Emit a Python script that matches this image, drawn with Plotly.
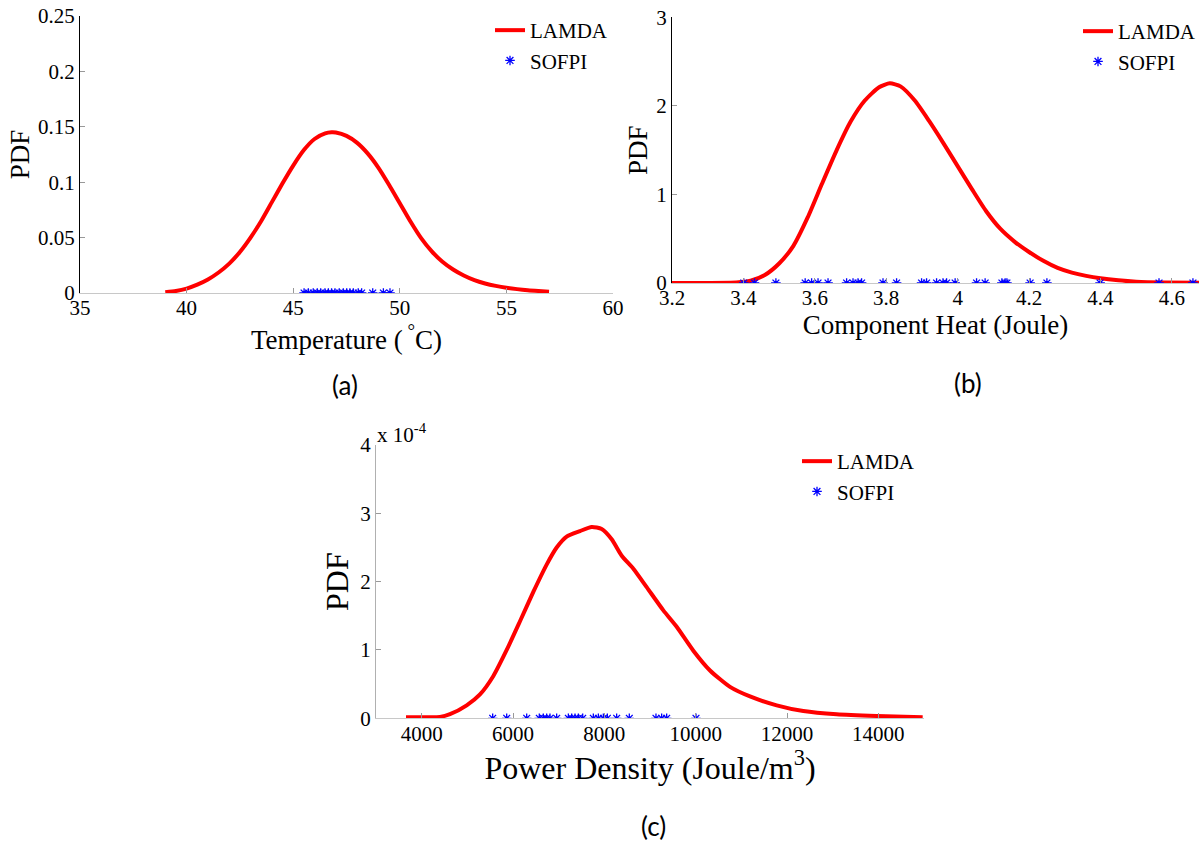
import plotly.graph_objects as go

# ---------------- data ----------------
# (a) Temperature
temp_x = [39.0, 39.5, 40.0, 40.5, 41.0, 41.5, 42.0, 42.5, 43.0, 43.5, 44.0, 44.5, 45.0, 45.5,
          46.0, 46.5, 46.8, 47.0, 47.5, 48.0, 48.5, 49.0, 49.5, 50.0, 50.5, 51.0, 51.5, 52.0,
          52.5, 53.0, 53.5, 54.0, 54.5, 55.0, 55.5, 56.0, 56.5, 57.0]
temp_pdf = [0.0006, 0.0018, 0.004, 0.0075, 0.0122, 0.0185, 0.0265, 0.037, 0.050, 0.065, 0.082,
            0.099, 0.115, 0.129, 0.139, 0.144, 0.145, 0.1448, 0.1418, 0.1355, 0.1258, 0.1130,
            0.0975, 0.0810, 0.0645, 0.0495, 0.0375, 0.0282, 0.0212, 0.0158, 0.0116, 0.0086,
            0.0064, 0.0047, 0.0035, 0.0025, 0.0018, 0.0012]
temp_sofpi = [45.51, 45.71, 45.94, 46.13, 46.29, 46.49, 46.65, 46.80, 46.96, 47.16, 47.35, 47.51,
              47.66, 47.82, 48.05, 48.21, 48.73, 49.23, 49.54]

# (b) Component heat
heat_x = [3.20, 3.30, 3.38, 3.42, 3.46, 3.50, 3.54, 3.58, 3.62, 3.66, 3.70, 3.74, 3.78, 3.81,
          3.84, 3.88, 3.92, 3.96, 4.00, 4.04, 4.08, 4.12, 4.16, 4.20, 4.24, 4.28, 4.32, 4.36,
          4.40, 4.45, 4.50, 4.58, 4.68]
heat_pdf = [0.0, 0.001, 0.006, 0.025, 0.09, 0.22, 0.42, 0.74, 1.12, 1.49, 1.82, 2.06, 2.21, 2.254,
            2.22, 2.06, 1.83, 1.58, 1.32, 1.06, 0.81, 0.61, 0.465, 0.35, 0.25, 0.17, 0.117, 0.08,
            0.053, 0.03, 0.015, 0.006, 0.003]
heat_sofpi = [3.401, 3.431, 3.491, 3.573, 3.591, 3.609, 3.637, 3.689, 3.707, 3.721, 3.731, 3.791,
              3.829, 3.899, 3.913, 3.941, 3.959, 3.969, 3.993, 4.053, 4.077, 4.124, 4.133, 4.138,
              4.203, 4.250, 4.399, 4.564, 4.659]

# (c) Power density (PDF in units of 1e-4)
power_x = [3657, 4000, 4401, 4620, 4986, 5277, 5570, 5862, 6153, 6445, 6737, 6956, 7175, 7467,
           7723, 7942, 8161, 8380, 8635, 8927, 9292, 9584, 9949, 10314, 10752, 11190, 11774,
           12358, 13088, 13964, 14971]
power_pdf_e4 = [0.015, 0.017, 0.02, 0.06, 0.19, 0.35, 0.62, 1.00, 1.42, 1.85, 2.25, 2.50, 2.66,
                2.74, 2.80, 2.77, 2.62, 2.38, 2.19, 1.92, 1.58, 1.34, 0.99, 0.70, 0.46, 0.32,
                0.19, 0.106, 0.058, 0.033, 0.015]
power_sofpi = [5555, 5862, 6300, 6576, 6664, 6737, 6810, 6956, 7212, 7285, 7358, 7431, 7526,
               7759, 7869, 7978, 8066, 8270, 8547, 9131, 9255, 9365, 10007]

temp_ticks = [35, 40, 45, 50, 55, 60]
temp_ytick = [0, 0.05, 0.1, 0.15, 0.2, 0.25]
temp_ytext = ["0", "0.05", "0.1", "0.15", "0.2", "0.25"]
heat_ticks = [3.2, 3.4, 3.6, 3.8, 4.0, 4.2, 4.4, 4.6]
heat_ttext = ["3.2", "3.4", "3.6", "3.8", "4", "4.2", "4.4", "4.6"]
heat_ytick = [0, 1, 2, 3]
power_ticks = [4000, 6000, 8000, 10000, 12000, 14000]
power_ttext = ["4000", "6000", "8000", "10000", "12000", "14000"]
power_ytick = [0, 1, 2, 3, 4]

W, H = 1201, 847
SERIF = "Liberation Serif"
RED = "#ff0000"
BLUE = "#0000ff"


def px_dom_x(a, b):
    return [a / W, b / W]


def px_dom_y(top, bottom):
    return [1 - bottom / H, 1 - top / H]


fig = go.Figure()

panels = [
    ("x", "y", "legend", temp_x, temp_pdf, temp_sofpi),
    ("x2", "y2", "legend2", heat_x, heat_pdf, heat_sofpi),
    ("x3", "y3", "legend3", power_x, power_pdf_e4, power_sofpi),
]
for xa, ya, lg, cx, cy, stars in panels:
    fig.add_trace(go.Scatter(x=cx, y=cy, mode="lines", name="LAMDA", xaxis=xa, yaxis=ya,
                             line=dict(color=RED, width=4, shape="spline", smoothing=0.6),
                             legend=lg))
    fig.add_trace(go.Scatter(x=stars, y=[0] * len(stars), mode="markers", name="SOFPI",
                             xaxis=xa, yaxis=ya, legend=lg,
                             marker=dict(symbol="asterisk-open", size=8, color=BLUE,
                                         line=dict(color=BLUE, width=1.3))))

tickfont = dict(family=SERIF, size=21, color="black")
common_x = dict(showgrid=False, zeroline=False, showline=True, linecolor="#c8c8c8", linewidth=1,
                ticks="inside", ticklen=5, tickcolor="#999999", tickfont=tickfont,
                automargin=False, ticklabelstandoff=-4)
common_y = dict(showgrid=False, zeroline=False, showline=True, linewidth=1,
                ticks="inside", ticklen=5, tickcolor="#999999", tickfont=tickfont,
                automargin=False)
legfont = dict(family=SERIF, size=21, color="black")

fig.update_layout(
    width=W, height=H, autosize=False,
    margin=dict(l=0, r=0, t=0, b=0, pad=0),
    paper_bgcolor="white", plot_bgcolor="white",
    xaxis=dict(common_x, domain=px_dom_x(80, 613), range=[35, 60], tickvals=temp_ticks,
               anchor="y",
               title=dict(text="Temperature (<sup> °</sup>C)", standoff=4,
                          font=dict(family=SERIF, size=27, color="black"))),
    yaxis=dict(common_y, domain=px_dom_y(16, 293), range=[0, 0.25], tickvals=temp_ytick,
               ticktext=temp_ytext, linecolor="black", anchor="x",
               title=dict(text="PDF", standoff=0,
                          font=dict(family=SERIF, size=27, color="black"))),
    xaxis2=dict(common_x, domain=px_dom_x(672, 1199), range=[3.2, 4.676], tickvals=heat_ticks,
                ticktext=heat_ttext, anchor="y2",
                title=dict(text="Component Heat (Joule)", standoff=0,
                           font=dict(family=SERIF, size=27, color="black"))),
    yaxis2=dict(common_y, domain=px_dom_y(17.3, 283), range=[0, 3], tickvals=heat_ytick,
                linecolor="black", anchor="x2",
                title=dict(text="PDF", standoff=0,
                           font=dict(family=SERIF, size=27, color="black"))),
    xaxis3=dict(common_x, domain=px_dom_x(376, 924), range=[3000, 15000], tickvals=power_ticks,
                ticktext=power_ttext, anchor="y3",
                title=dict(text="Power Density (Joule/m<sup>3</sup>)", standoff=8,
                           font=dict(family=SERIF, size=32, color="black"))),
    yaxis3=dict(common_y, domain=px_dom_y(445, 718.3), range=[0, 4], tickvals=power_ytick,
                linecolor="#b0b0b0", anchor="x3",
                title=dict(text="PDF", standoff=2,
                           font=dict(family=SERIF, size=32, color="black"))),
    legend=dict(x=490 / W, y=1 - 10 / H, xanchor="left", yanchor="top",
                font=legfont, bgcolor="rgba(0,0,0,0)"),
    legend2=dict(x=1.0, y=1 - 11 / H, xanchor="right", yanchor="top",
                 font=legfont, bgcolor="rgba(0,0,0,0)"),
    legend3=dict(x=797 / W, y=1 - 441 / H, xanchor="left", yanchor="top",
                 font=legfont, bgcolor="rgba(0,0,0,0)"),
    showlegend=True,
)

annotations = [
    dict(text="(a)", x=330 / W, y=1 - 385 / H, xref="paper", yref="paper", showarrow=False,
         yanchor="middle", font=dict(family="Lato", size=26, color="black")),
    dict(text="(b)", x=984 / W, y=1 - 383 / H, xref="paper", yref="paper", showarrow=False,
         yanchor="middle", font=dict(family="Lato", size=26, color="black")),
    dict(text="(c)", x=653 / W, y=1 - 826 / H, xref="paper", yref="paper", showarrow=False,
         yanchor="middle", font=dict(family="Lato", size=26, color="black")),
    dict(text="x 10<sup>-4</sup>", x=375 / W, y=1 - 433 / H, xref="paper", yref="paper",
         xanchor="left", yanchor="middle", showarrow=False,
         font=dict(family=SERIF, size=21, color="black")),
]
fig.update_layout(annotations=annotations)

fig.write_html("out.html", config={"displayModeBar": False},
               post_script="document.body.style.margin='0';")
